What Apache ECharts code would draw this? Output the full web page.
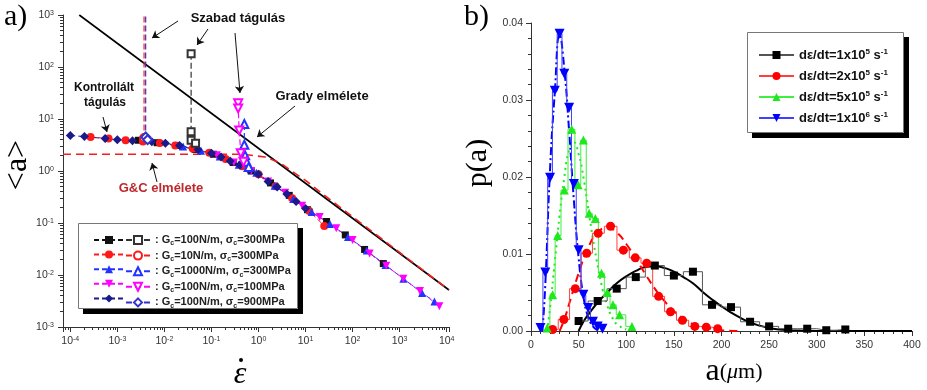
<!DOCTYPE html>
<html><head><meta charset="utf-8">
<script src="https://cdn.jsdelivr.net/npm/echarts@6/dist/echarts.min.js"></script>
<style>html,body{margin:0;padding:0;background:#fff}#c{width:927px;height:390px}</style>
</head><body><div id="c"></div>
<script>
// ================= Panel a) data =================
const gradyX = [0.000155, 11200];
const gradyY = [1000, 0.00515];
const gcX = [0.00007, 0.47, 1.38, 2.9, 5.4, 9.8, 20, 11200];
const gcY = [2.1, 2.1, 1.86, 1.43, 0.96, 0.67, 0.40, 0.00515];

// filled markers: controlled expansion
const s100_300X = [0.0028, 0.007, 0.018, 0.045, 0.11, 0.29, 0.7, 1.8, 4.5, 11, 28, 70, 180, 450];
const s100_300Y = [3.9, 3.5, 3.1, 2.6, 2.1, 1.46, 1.0, 0.59, 0.34, 0.18, 0.107, 0.059, 0.031, 0.0166];
const s10_300X = [0.00027, 0.00065, 0.0015, 0.0035, 0.008, 0.017, 0.04, 0.09, 0.2, 0.45, 1.0, 2.3, 5.2, 12, 25];
const s10_300Y = [4.5, 4.2, 3.9, 3.7, 3.47, 3.1, 2.7, 2.25, 1.7, 1.23, 0.87, 0.51, 0.30, 0.17, 0.088];
const s1000_300X = [0.025, 0.06, 0.15, 0.38, 0.9, 2.2, 5.5, 13.5, 33, 80, 200, 500, 1200, 3000, 5500];
const s1000_300Y = [2.95, 2.45, 1.9, 1.32, 0.93, 0.52, 0.29, 0.162, 0.096, 0.054, 0.0295, 0.0155, 0.0085, 0.0045, 0.0031];
const s100_100X = [0.13, 0.3, 0.7, 1.6, 3.7, 8.5, 20, 45, 100, 230, 520, 1200, 2700, 7000];
const s100_100Y = [2.0, 1.45, 1.0, 0.63, 0.38, 0.215, 0.13, 0.079, 0.047, 0.026, 0.015, 0.0085, 0.0049, 0.0025];
const s100_900X = [0.0001, 0.0002, 0.00055, 0.001, 0.0021, 0.0054, 0.0105, 0.021, 0.052, 0.1, 0.16, 0.25, 0.4, 0.63, 1.0, 1.6, 2.5, 4.0, 6.3, 10];
const s100_900Y = [4.8, 4.6, 4.2, 4.0, 3.8, 3.65, 3.4, 3.1, 2.6, 2.2, 1.85, 1.55, 1.3, 1.05, 0.87, 0.63, 0.49, 0.36, 0.26, 0.19];

// open markers: free expansion
const o100_300X = [0.037, 0.037, 0.037, 0.046];
const o100_300Y = [180, 5.7, 3.9, 3.4];
const o10_300X = [0.0037, 0.0037];
const o10_300Y = [1400, 4.3];
const o1000_300X = [0.5, 0.5, 0.52, 0.56, 0.62];
const o1000_300Y = [8, 3.2, 2.0, 1.5, 1.2];
const o100_100X = [0.37, 0.37, 0.39, 0.42, 0.48];
const o100_100Y = [20, 16, 6, 2.2, 1.5];
const o100_900X = [0.004, 0.004, 0.0044];
const o100_900Y = [1400, 4.5, 4.0];

const legendA = [
  ['100', '300'], ['10', '300'], ['1000', '300'], ['100', '100'], ['100', '900']
];

// ================= Panel b) data =================
const b1X = [50, 70, 90, 110, 130, 150, 170, 190, 210, 230, 250, 270, 290, 310, 330];
const b1Y = [0.0013, 0.0039, 0.0055, 0.0070, 0.0085, 0.0072, 0.0077, 0.0034, 0.0031, 0.0012, 0.0006, 0.0003, 0.0003, 0.0001, 0.0002];
const b2X = [22.7, 34.5, 46.5, 58.5, 70.5, 83.5, 97, 109.5, 121.5, 134, 146.5, 159, 172, 184, 196];
const b2Y = [0.0002, 0.0015, 0.0055, 0.0101, 0.0127, 0.0136, 0.0105, 0.0095, 0.0088, 0.0045, 0.0025, 0.0014, 0.0006, 0.0005, 0.0003];
const b3X = [17, 22.7, 28, 35, 42.7, 49.5, 55, 61, 67.5, 74, 80, 86, 93, 106];
const b3Y = [0.0004, 0.0047, 0.0124, 0.0183, 0.0262, 0.0190, 0.0248, 0.0153, 0.0146, 0.0075, 0.0050, 0.0034, 0.0021, 0.0006];
const b4X = [10, 15, 20, 25, 30, 35, 40, 45, 50, 55, 60, 65, 70, 75];
const b4Y = [0.0004, 0.0076, 0.0199, 0.0312, 0.0386, 0.0334, 0.0290, 0.0191, 0.0105, 0.0047, 0.0030, 0.0012, 0.0006, 0.0003];

const f1X = [50, 55, 60, 70, 80, 90, 100, 110, 120, 130, 140, 150, 160, 170, 180, 190, 200, 210, 220, 230, 240, 250, 260, 280, 300, 400];
const f1Y = [0, 0.0012, 0.0021, 0.0037, 0.0050, 0.0062, 0.0071, 0.0078, 0.0083, 0.0084, 0.0082, 0.0077, 0.0070, 0.0062, 0.0051, 0.0041, 0.0032, 0.0024, 0.0017, 0.0011, 0.0007, 0.0004, 0.0002, 0.00005, 0, 0];
const f2X = [30, 35, 40, 50, 60, 70, 80, 90, 100, 110, 120, 130, 140, 150, 160, 170, 180, 190, 200, 220];
const f2Y = [0, 0.0015, 0.0035, 0.0075, 0.0108, 0.0128, 0.0134, 0.0128, 0.0113, 0.0094, 0.0074, 0.0055, 0.0039, 0.0026, 0.0016, 0.0009, 0.0005, 0.0003, 0.0001, 0];
const f3X = [17, 20, 25, 30, 35, 40, 45, 50, 55, 60, 65, 70, 75, 80, 85, 90, 100];
const f3Y = [0, 0.003, 0.009, 0.015, 0.020, 0.0235, 0.0245, 0.023, 0.020, 0.016, 0.012, 0.0085, 0.0055, 0.0033, 0.0018, 0.0009, 0.0002];
const f4X = [12, 15, 20, 25, 30, 35, 40, 45, 50, 55, 60, 65, 70];
const f4Y = [0, 0.006, 0.021, 0.031, 0.0385, 0.034, 0.026, 0.017, 0.0095, 0.0045, 0.0018, 0.0006, 0.0001];

const legendB = ['1x10', '2x10', '5x10', '1x10'];
const legendBExp = ['5', '5', '5', '6'];

// ================= chart =================
const zip = (xs, ys) => xs.map((x, i) => [x, ys[i]]);
const chart = echarts.init(document.getElementById('c'));

const X_MIN = 0.00007, X_MAX = 11200, Y_MIN = 0.001, Y_MAX = 1000;
function logMinor(lo, hi) {
  const out = [];
  for (let e = -6; e <= 5; e++) for (let m = 2; m <= 9; m++) {
    const v = m * Math.pow(10, e);
    if (v >= lo && v <= hi) out.push(v);
  }
  return out;
}
const minorXs = logMinor(X_MIN, X_MAX);
const minorYs = logMinor(Y_MIN, Y_MAX);

const supFmt = v => {
  const e = Math.log10(v); const r = Math.round(e);
  if (Math.abs(e - r) > 1e-6) return '';
  return '{b|10}{s|' + r + '}';
};
const supRich = { b: { fontSize: 10.5, color: '#333', fontFamily: 'Liberation Sans' }, s: { fontSize: 7, color: '#333', verticalAlign: 'top', fontFamily: 'Liberation Sans' } };

const C = { black: '#111', red: '#ff1a1a', blue: '#2233ff', mag: '#ff00ff', navy: '#1a1a8c' };

function filled(name, color, symbol, xs, ys, size, rot) {
  return { type: 'line', name, xAxisIndex: 0, yAxisIndex: 0, data: zip(xs, ys), symbol, symbolSize: size, symbolRotate: rot || 0,
    itemStyle: { color }, lineStyle: { color, width: 1, type: [5, 3] }, z: 3, clip: true };
}
function open(name, color, symbol, xs, ys, size, rot) {
  return { type: 'line', name, xAxisIndex: 0, yAxisIndex: 0, data: zip(xs, ys), symbol, symbolSize: size, symbolRotate: rot || 0,
    itemStyle: { color, borderWidth: 1 }, lineStyle: { color, width: 1.2, type: [6, 3] }, z: 3, clip: true };
}

const arrowPx = [
  [[178, 21], [152, 38]],
  [[208, 29], [197, 45]],
  [[235, 33], [240, 93]],
  [[103, 117], [107, 132]],
  [[295, 106], [257, 137]],
  [[157, 182], [152, 163]]
];

const legendAText = {};
['o1', 'o2', 'o3', 'o4', 'o5'].forEach((n, i) => {
  legendAText[n] = ': G{sub|c}=' + legendA[i][0] + 'N/m, σ{sub|c}=' + legendA[i][1] + 'MPa';
});
const legendBText = {};
['d1', 'd2', 'd3', 'd4'].forEach((n, i) => {
  legendBText[n] = 'dε/dt=' + legendB[i] + '{sup|' + legendBExp[i] + '} s{sup|-1}';
});

const axisCol = '#333';
const baseGraphics = [
  { type: 'rect', z: 4, shape: { x: 78.5, y: 223.5, width: 219, height: 85 }, style: { fill: '#fff', stroke: '#777', lineWidth: 1 } },
  { type: 'rect', z: 4, shape: { x: 747.5, y: 32.5, width: 156, height: 100 }, style: { fill: '#fff', stroke: '#777', lineWidth: 1 } },
  { type: 'rect', zlevel: 1, z: 50, shape: { x: 298, y: 228, width: 5, height: 86 }, style: { fill: '#000' } },
  { type: 'rect', zlevel: 1, z: 50, shape: { x: 83, y: 309, width: 215, height: 5 }, style: { fill: '#000' } },
  { type: 'rect', zlevel: 1, z: 50, shape: { x: 904, y: 37, width: 5, height: 101 }, style: { fill: '#000' } },
  { type: 'rect', zlevel: 1, z: 50, shape: { x: 752, y: 133, width: 152, height: 5 }, style: { fill: '#000' } },
  { type: 'text', z: 5, left: 4, top: 2, style: { text: 'a)', font: '30px "Liberation Serif"', fill: '#000' } },
  { type: 'text', z: 5, left: 464, top: 2, style: { text: 'b)', font: '30px "Liberation Serif"', fill: '#000' } },
  { type: 'text', z: 5, x: 238, y: 18, style: { text: 'Szabad tágulás', font: 'bold 13px "Liberation Sans"', fill: '#111', align: 'center', verticalAlign: 'middle' } },
  { type: 'text', z: 5, x: 104, y: 88, style: { text: 'Kontrollált', font: 'bold 12px "Liberation Sans"', fill: '#111', align: 'center', verticalAlign: 'middle' } },
  { type: 'text', z: 5, x: 105, y: 103, style: { text: 'tágulás', font: 'bold 12px "Liberation Sans"', fill: '#111', align: 'center', verticalAlign: 'middle' } },
  { type: 'text', z: 5, x: 322, y: 96, style: { text: 'Grady elmélete', font: 'bold 13px "Liberation Sans"', fill: '#111', align: 'center', verticalAlign: 'middle' } },
  { type: 'text', z: 5, x: 161, y: 188, style: { text: 'G&C elmélete', font: 'bold 13px "Liberation Sans"', fill: '#c0272d', align: 'center', verticalAlign: 'middle' } },
  { type: 'text', z: 5, x: 18, y: 165, rotation: Math.PI / 2, style: { text: '<a>', font: '32px "Liberation Serif"', fill: '#000', align: 'center', verticalAlign: 'middle' } },
  { type: 'text', z: 5, x: 478, y: 163, rotation: Math.PI / 2, style: { text: 'p(a)', font: '30px "Liberation Serif"', fill: '#000', align: 'center', verticalAlign: 'middle' } },
  { type: 'text', z: 5, x: 240, y: 375, style: { text: 'ε', font: 'italic 32px "Liberation Serif"', fill: '#000', align: 'center', verticalAlign: 'middle' } },
  { type: 'circle', z: 5, shape: { cx: 241, cy: 360, r: 2 }, style: { fill: '#000' } },
  { type: 'text', z: 5, x: 734, y: 372, style: { text: '{a|a}{p|(}{mu|μ}{p|m)}', align: 'center', verticalAlign: 'middle',
    rich: { a: { font: '32px "Liberation Serif"', fill: '#000' }, p: { font: '22px "Liberation Serif"', fill: '#000' }, mu: { font: 'italic 22px "Liberation Serif"', fill: '#000' } } } }
];

const hiddenLog = (extra) => Object.assign({ type: 'log', gridIndex: 0, logBase: 10,
  axisLine: { show: false }, axisLabel: { show: false }, splitLine: { show: false } }, extra);

const option = {
  animation: false,
  backgroundColor: '#fff',
  grid: [
    { left: 63, right: 478, top: 15, bottom: 63 },
    { left: 531, right: 15, top: 23, bottom: 59 }
  ],
  xAxis: [
    { type: 'log', gridIndex: 0, min: X_MIN, max: X_MAX, logBase: 10,
      axisLine: { lineStyle: { color: axisCol } }, axisTick: { length: 5, lineStyle: { color: axisCol } },
      splitLine: { show: false },
      axisLabel: { formatter: supFmt, rich: supRich, margin: 9, showMinLabel: true, showMaxLabel: true } },
    { type: 'value', gridIndex: 1, min: 0, max: 400, interval: 50,
      axisLine: { lineStyle: { color: axisCol } }, axisTick: { length: 5, lineStyle: { color: axisCol } },
      minorTick: { show: true, splitNumber: 5, length: 3, lineStyle: { color: axisCol } },
      splitLine: { show: false },
      axisLabel: { color: '#333', fontSize: 10.5, fontFamily: 'Liberation Sans', margin: 9 } },
    // minor ticks of the log x axis (same scale, ticks only)
    hiddenLog({ min: X_MIN, max: X_MAX, position: 'bottom', axisTick: { show: true, length: 3, customValues: minorXs, lineStyle: { color: axisCol } } })
  ],
  yAxis: [
    { type: 'log', gridIndex: 0, min: Y_MIN, max: Y_MAX, logBase: 10,
      axisLine: { show: true, lineStyle: { color: axisCol } }, axisTick: { show: true, length: 5, lineStyle: { color: axisCol } },
      splitLine: { show: false },
      axisLabel: { formatter: supFmt, rich: supRich, margin: 9 } },
    { type: 'value', gridIndex: 1, min: 0, max: 0.04, interval: 0.01,
      axisLine: { show: true, lineStyle: { color: axisCol } }, axisTick: { show: true, length: 5, lineStyle: { color: axisCol } },
      minorTick: { show: true, splitNumber: 5, length: 3, lineStyle: { color: axisCol } },
      splitLine: { show: false },
      axisLabel: { color: '#333', fontSize: 10.5, fontFamily: 'Liberation Sans', margin: 8, formatter: v => v.toFixed(2) } },
    hiddenLog({ min: Y_MIN, max: Y_MAX, position: 'left', axisTick: { show: true, length: 3, customValues: minorYs, lineStyle: { color: axisCol } } })
  ],
  legend: [
    { left: 88, top: 230, orient: 'vertical', itemWidth: 30, itemHeight: 10, itemGap: 5.6, z: 6,
      data: ['f1', 'f2', 'f3', 'f4', 'f5'], formatter: () => '', selectedMode: false, textStyle: { fontSize: 1 } },
    { left: 120, top: 228, orient: 'vertical', itemWidth: 24, itemHeight: 10, itemGap: 1.6, z: 6,
      data: ['o1', 'o2', 'o3', 'o4', 'o5'], selectedMode: false,
      formatter: n => legendAText[n],
      textStyle: { fontSize: 11, fontWeight: 'bold', color: '#222', fontFamily: 'Liberation Sans', lineHeight: 14,
        rich: { sub: { fontSize: 7, fontWeight: 'bold', color: '#222', verticalAlign: 'bottom' } } } },
    { left: 753, top: 43, orient: 'vertical', itemWidth: 35, itemHeight: 10, itemGap: 7, z: 6,
      data: ['d1', 'd2', 'd3', 'd4'], selectedMode: false,
      formatter: n => legendBText[n],
      textStyle: { fontSize: 13, fontWeight: 'bold', color: '#111', fontFamily: 'Liberation Sans', lineHeight: 14,
        rich: { sup: { fontSize: 8, fontWeight: 'bold', color: '#111', verticalAlign: 'top' } } } }
  ],
  series: [
    { type: 'line', name: 'grady', xAxisIndex: 0, yAxisIndex: 0, data: zip(gradyX, gradyY), symbol: 'none',
      lineStyle: { color: '#000', width: 1.6 }, z: 2,
      markLine: { silent: true, symbol: ['none', 'arrow'], symbolSize: 7, label: { show: false },
        lineStyle: { color: '#111', width: 1, type: 'solid' },
        data: arrowPx.map(a => [{ x: a[0][0], y: a[0][1] }, { x: a[1][0], y: a[1][1] }]) } },
    { type: 'line', name: 'gc', xAxisIndex: 0, yAxisIndex: 0, data: zip(gcX, gcY), symbol: 'none',
      lineStyle: { color: '#f02020', width: 1.6, type: [8, 5] }, z: 2 },
    filled('f1', C.black, 'rect', s100_300X, s100_300Y, 7),
    filled('f2', C.red, 'circle', s10_300X, s10_300Y, 8),
    filled('f3', C.blue, 'triangle', s1000_300X, s1000_300Y, 8),
    filled('f4', C.mag, 'triangle', s100_100X, s100_100Y, 8, 180),
    filled('f5', C.navy, 'diamond', s100_900X, s100_900Y, 9),
    open('o1', '#333', 'emptyRect', o100_300X, o100_300Y, 7),
    open('o2', C.red, 'emptyCircle', o10_300X, o10_300Y, 8),
    open('o3', C.blue, 'emptyTriangle', o1000_300X, o1000_300Y, 8),
    open('o4', C.mag, 'emptyTriangle', o100_100X, o100_100Y, 8, 180),
    open('o5', '#3333cc', 'emptyDiamond', o100_900X, o100_900Y, 9),

    // panel b fits
    { type: 'line', xAxisIndex: 1, yAxisIndex: 1, data: zip(f1X, f1Y), symbol: 'none', smooth: true,
      lineStyle: { color: '#000', width: 2 }, z: 2 },
    { type: 'line', xAxisIndex: 1, yAxisIndex: 1, data: zip(f2X, f2Y), symbol: 'none', smooth: true,
      lineStyle: { color: '#ff0000', width: 2, type: [8, 5] }, z: 2 },
    { type: 'line', xAxisIndex: 1, yAxisIndex: 1, data: zip(f3X, f3Y), symbol: 'none', smooth: true,
      lineStyle: { color: '#1de91d', width: 2, type: [2, 4] }, z: 2 },
    { type: 'line', xAxisIndex: 1, yAxisIndex: 1, data: zip(f4X, f4Y), symbol: 'none', smooth: true,
      lineStyle: { color: '#0000ff', width: 2, type: [8, 3, 2, 3] }, z: 2 },
    // panel b histograms + points
    { type: 'line', name: 'd1', xAxisIndex: 1, yAxisIndex: 1, data: zip(b1X, b1Y), step: 'middle', symbol: 'rect', symbolSize: 8,
      itemStyle: { color: '#000' }, lineStyle: { color: '#555', width: 1 }, z: 3 },
    { type: 'line', name: 'd2', xAxisIndex: 1, yAxisIndex: 1, data: zip(b2X, b2Y), step: 'middle', symbol: 'circle', symbolSize: 9,
      itemStyle: { color: '#ff0000' }, lineStyle: { color: '#ff4040', width: 1 }, z: 3 },
    { type: 'line', name: 'd3', xAxisIndex: 1, yAxisIndex: 1, data: zip(b3X, b3Y), step: 'middle', symbol: 'triangle', symbolSize: 9,
      itemStyle: { color: '#1de91d' }, lineStyle: { color: '#40ee40', width: 1 }, z: 3 },
    { type: 'line', name: 'd4', xAxisIndex: 1, yAxisIndex: 1, data: zip(b4X, b4Y), step: 'middle', symbol: 'triangle', symbolRotate: 180, symbolSize: 10,
      itemStyle: { color: '#0000ff' }, lineStyle: { color: '#4040ff', width: 1 }, z: 3 }
  ],
  graphic: { elements: baseGraphics }
};
chart.setOption(option);
</script></body></html>
